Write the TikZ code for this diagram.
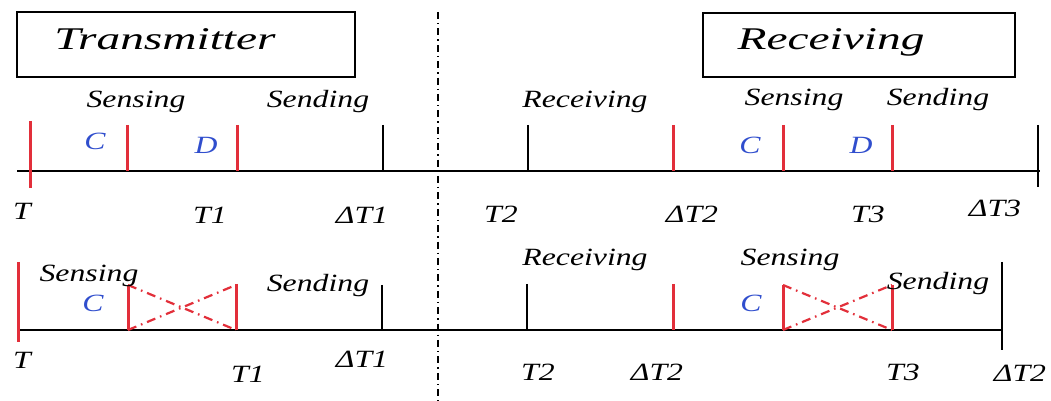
\documentclass[tikz,border=0pt]{standalone}
\usepackage{fontspec}
\setmainfont{Liberation Serif}
\definecolor{tickred}{RGB}{226,47,58}
\definecolor{letterblue}{RGB}{48,78,205}
\begin{document}
\begin{tikzpicture}[x=0.5pt,y=0.5pt]
        \tikzstyle{every node}+=[inner sep=0pt]
        \tikzstyle{lbl}=[anchor=base, xscale=1.28, font=\itshape\fontsize{12.4}{14}\selectfont]
        \tikzstyle{ttl}=[anchor=base, xscale=1.5, font=\itshape\fontsize{15.8}{18}\selectfont]
        \tikzstyle{phase}=[lbl, text=letterblue]
        \tikzstyle{tick}=[black, line width=1.4pt]
        \tikzstyle{rtick}=[tickred, line width=1.5pt]
        \tikzstyle{clash}=[tickred, line width=1.1pt, dash pattern=on 4.5pt off 2.5pt on 0.8pt off 2.5pt]
        \useasboundingbox (0,0) rectangle (1051,-401);
        % title boxes
        \draw [black, line width=1.1pt] (17,-12) rectangle (355,-77);
        \draw (165,-50) node [ttl] (ttlTx) {Transmitter};
        \draw [black, line width=1.1pt] (703,-13) rectangle (1015,-77);
        \draw (831,-50) node [ttl] (ttlRx) {Receiving};
        % separator
        \draw [black, line width=1.3pt, dash pattern=on 3.5pt off 2pt on 0.7pt off 2pt] (438,-12) -- (438,-401);
        % first time line
        \draw [black, line width=1.2pt] (17,-171) -- (1040,-171);
        \draw [rtick] (30,-121) -- (30,-188);
        \draw [rtick] (127,-125) -- (127,-171);
        \draw [rtick] (237,-125) -- (237,-171);
        \draw [tick] (383,-125) -- (383,-171);
        \draw [tick] (528,-125) -- (528,-171);
        \draw [rtick] (673,-125) -- (673,-171);
        \draw [rtick] (783,-125) -- (783,-171);
        \draw [rtick] (892,-125) -- (892,-171);
        \draw [tick] (1038,-125) -- (1038,-187);
        \draw (136,-108) node [lbl] (sensA) {Sensing};
        \draw (318,-108) node [lbl] (sendA) {Sending};
        \draw (585,-108) node [lbl] (recvA) {Receiving};
        \draw (794,-106) node [lbl] (sensB) {Sensing};
        \draw (938,-106) node [lbl] (sendB) {Sending};
        \draw (95,-150) node [phase] (phCA) {C};
        \draw (206,-154) node [phase] (phDA) {D};
        \draw (750,-154) node [phase] (phCB) {C};
        \draw (861,-154) node [phase] (phDB) {D};
        \draw (22,-220) node [lbl] (tA) {T};
        \draw (210,-224) node [lbl] (tOneA) {T1};
        \draw (362,-224) node [lbl] (dtOneA) {ΔT1};
        \draw (501,-222) node [lbl] (tTwoA) {T2};
        \draw (692,-222) node [lbl] (dtTwoA) {ΔT2};
        \draw (868,-223) node [lbl] (tThreeA) {T3};
        \draw (995,-217) node [lbl] (dtThreeA) {ΔT3};
        % second time line
        \draw [black, line width=1.2pt] (17,-330) -- (1002,-330);
        \draw [rtick] (18,-262) -- (18,-342);
        \draw [rtick] (128,-285) -- (128,-330);
        \draw [rtick] (236,-284) -- (236,-330);
        \draw [clash] (128,-285) -- (236,-330);
        \draw [clash] (128,-330) -- (236,-285);
        \draw [tick] (382,-285) -- (382,-330);
        \draw [tick] (527,-284) -- (527,-330);
        \draw [rtick] (673,-284) -- (673,-330);
        \draw [rtick] (783,-285) -- (783,-330);
        \draw [rtick] (892,-285) -- (892,-330);
        \draw [clash] (783,-285) -- (892,-330);
        \draw [clash] (783,-330) -- (892,-285);
        \draw [tick] (1002,-262) -- (1002,-350);
        \draw (89,-282) node [lbl] (sensC) {Sensing};
        \draw (318,-292) node [lbl] (sendC) {Sending};
        \draw (585,-265) node [lbl] (recvC) {Receiving};
        \draw (790,-265) node [lbl] (sensD) {Sensing};
        \draw (938,-290) node [lbl] (sendD) {Sending};
        \draw (93,-312) node [phase] (phCC) {C};
        \draw (751,-312) node [phase] (phCD) {C};
        \draw (22,-368) node [lbl] (tC) {T};
        \draw (248,-382) node [lbl] (tOneC) {T1};
        \draw (362,-367) node [lbl] (dtOneC) {ΔT1};
        \draw (538,-380) node [lbl] (tTwoC) {T2};
        \draw (657,-380) node [lbl] (dtTwoC) {ΔT2};
        \draw (903,-380) node [lbl] (tThreeC) {T3};
        \draw (1020,-381) node [lbl] (dtTwoD) {ΔT2};
\end{tikzpicture}
\end{document}
